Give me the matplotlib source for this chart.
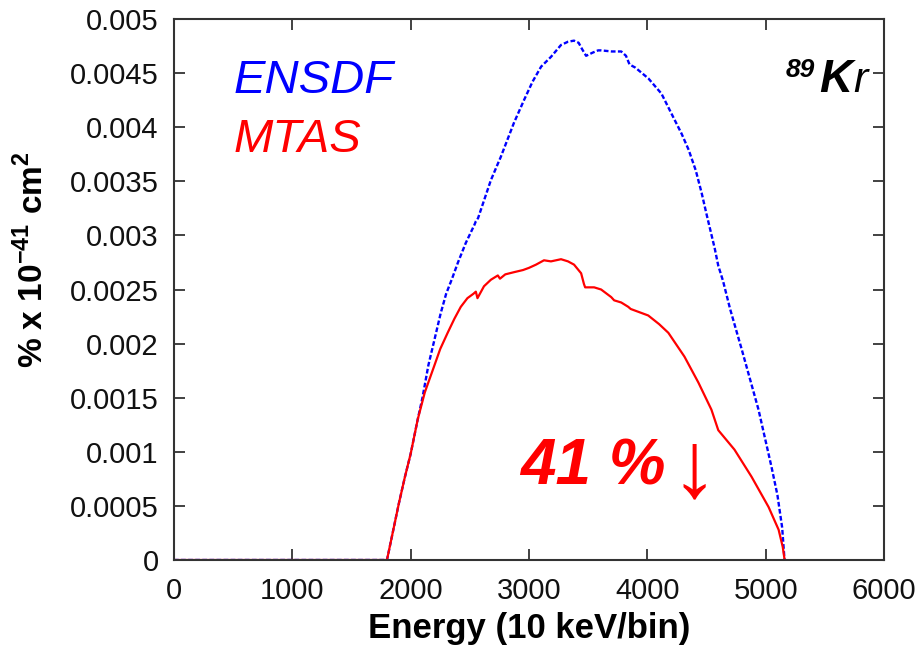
import matplotlib
matplotlib.use("Agg")
import matplotlib.pyplot as plt

# ── Spectra (energy bin, cross section in % x 1e-41 cm^2) ──────────────
ensdf_e = [0, 1800, 1900, 1950, 2000, 2060, 2100, 2150, 2200, 2254, 2300,
           2350, 2400, 2466, 2540, 2551, 2570, 2678, 2740, 2760, 2873, 2958,
           3030, 3103, 3186, 3271, 3330, 3381, 3420, 3450, 3483, 3540, 3585,
           3610, 3700, 3780, 3820, 3850, 3900, 4010, 4120, 4230, 4290, 4350,
           4410, 4460, 4500, 4570, 4600, 4640, 4700, 4800, 4940, 5050, 5100,
           5140, 5160]
ensdf_y = [0, 0, 0.00052, 0.00076, 0.00098, 0.0013, 0.0015, 0.0018, 0.00203,
           0.00228, 0.00246, 0.0026, 0.00275, 0.00293, 0.0031, 0.00313,
           0.00316, 0.00351, 0.00367, 0.00372, 0.00404, 0.00425, 0.00442,
           0.00456, 0.00465, 0.00476, 0.00479, 0.0048, 0.00478, 0.00472,
           0.00466, 0.00469, 0.00471, 0.00471, 0.0047, 0.0047, 0.00466,
           0.00458, 0.00455, 0.00445, 0.00431, 0.00407, 0.00394, 0.00379,
           0.0036, 0.00339, 0.0032, 0.00288, 0.00272, 0.00258, 0.00232,
           0.00194, 0.00139, 0.00086, 0.0006, 0.0003, 0]

mtas_e = [0, 1800, 1900, 1950, 2000, 2060, 2120, 2195, 2250, 2313, 2370,
          2424, 2480, 2530, 2551, 2565, 2620, 2678, 2737, 2755, 2800, 2873,
          2950, 3000, 3060, 3127, 3186, 3271, 3330, 3381, 3441, 3465, 3475,
          3551, 3610, 3695, 3720, 3780, 3839, 3860, 4008, 4100, 4178, 4314,
          4432, 4542, 4600, 4737, 4881, 5025, 5110, 5145, 5161]
mtas_y = [0, 0, 0.00052, 0.00076, 0.00098, 0.0013, 0.00155, 0.00178, 0.00195,
          0.0021, 0.00223, 0.00234, 0.00242, 0.00246, 0.00248, 0.00242,
          0.00253, 0.00259, 0.00263, 0.0026, 0.00264, 0.00266, 0.00268,
          0.0027, 0.00273, 0.00277, 0.00276, 0.00278, 0.00276, 0.00273,
          0.00265, 0.00255, 0.00252, 0.00252, 0.0025, 0.00243, 0.0024,
          0.00238, 0.00234, 0.00232, 0.00226, 0.00218, 0.0021, 0.00188,
          0.00164, 0.00139, 0.0012, 0.00102, 0.00077, 0.00049, 0.00028,
          0.00012, 0]

x_ticks = [0, 1000, 2000, 3000, 4000, 5000, 6000]
y_ticks = [0, 0.0005, 0.001, 0.0015, 0.002, 0.0025, 0.003, 0.0035, 0.004,
           0.0045, 0.005]
y_tick_labels = ["0", "0.0005", "0.001", "0.0015", "0.002", "0.0025",
                 "0.003", "0.0035", "0.004", "0.0045", "0.005"]

plt.rcParams["font.family"] = ["Liberation Sans", "DejaVu Sans"]
plt.rcParams["mathtext.fontset"] = "custom"
plt.rcParams["mathtext.rm"] = "Liberation Sans"
plt.rcParams["mathtext.bf"] = "Liberation Sans:bold"

fig = plt.figure(figsize=(9.22, 6.6), dpi=100)
ax = fig.add_axes([0.1887, 0.1515, 0.77, 0.8197])

ax.plot(ensdf_e, ensdf_y, color="#0000ff", linewidth=1.7,
        linestyle=(0, (2.0, 1.0)))
ax.plot(mtas_e, mtas_y, color="#ff0000", linewidth=1.6)

ax.set_xlim(0, 6000)
ax.set_ylim(0, 0.005)
ax.set_xticks(x_ticks)
ax.set_yticks(y_ticks)
ax.set_yticklabels(y_tick_labels)

for side in ax.spines.values():
    side.set_color("#333333")
    side.set_linewidth(1.5)
ax.tick_params(direction="in", length=8, width=1.3, color="#333333",
               top=True, right=True, labelsize=21, labelcolor="#111111")
ax.tick_params(axis="y", pad=11)
ax.tick_params(axis="x", pad=12)

ax.set_xlabel("Energy (10 keV/bin)", fontsize=25, fontweight="bold",
              labelpad=5)
ax.set_ylabel(r"% x 10$^{\mathbf{-41}}$ cm$^{\mathbf{2}}$", fontsize=24,
              fontweight="bold")
ax.yaxis.set_label_coords(-0.175, 0.555)

# legend-style labels
ax.text(0.0845, 0.863, "ENSDF", transform=ax.transAxes, color="#0000ff",
        fontsize=34, fontstyle="italic", va="baseline", ha="left")
ax.text(0.0845, 0.754, "MTAS", transform=ax.transAxes, color="#ff0000",
        fontsize=34, fontstyle="italic", va="baseline", ha="left")

# isotope tag: superscript mass number, bold K, light r
ax.text(0.903, 0.893, "89", transform=ax.transAxes, fontsize=19,
        fontweight="bold", fontstyle="italic", ha="right", va="baseline")
k_txt = ax.text(0.909, 0.865, "K", transform=ax.transAxes, fontsize=33,
                fontweight="bold", fontstyle="italic", ha="left",
                va="baseline")
fig.canvas.draw()
k_box = k_txt.get_window_extent()
k_right = ax.transAxes.inverted().transform((k_box.x1, k_box.y0))[0]
ax.text(k_right + 0.001, 0.865, "r", transform=ax.transAxes, fontsize=31,
        fontstyle="italic", ha="left", va="baseline")

# reduction annotation
ax.text(0.487, 0.139, "41 %", transform=ax.transAxes, color="#ff0000",
        fontsize=46, fontweight="bold", fontstyle="italic",
        ha="left", va="baseline")
ax.text(0.699, 0.118, "\u2193", transform=ax.transAxes, color="#ff0000",
        fontsize=68, ha="left", va="baseline")

fig.savefig("out.png", dpi=100)
